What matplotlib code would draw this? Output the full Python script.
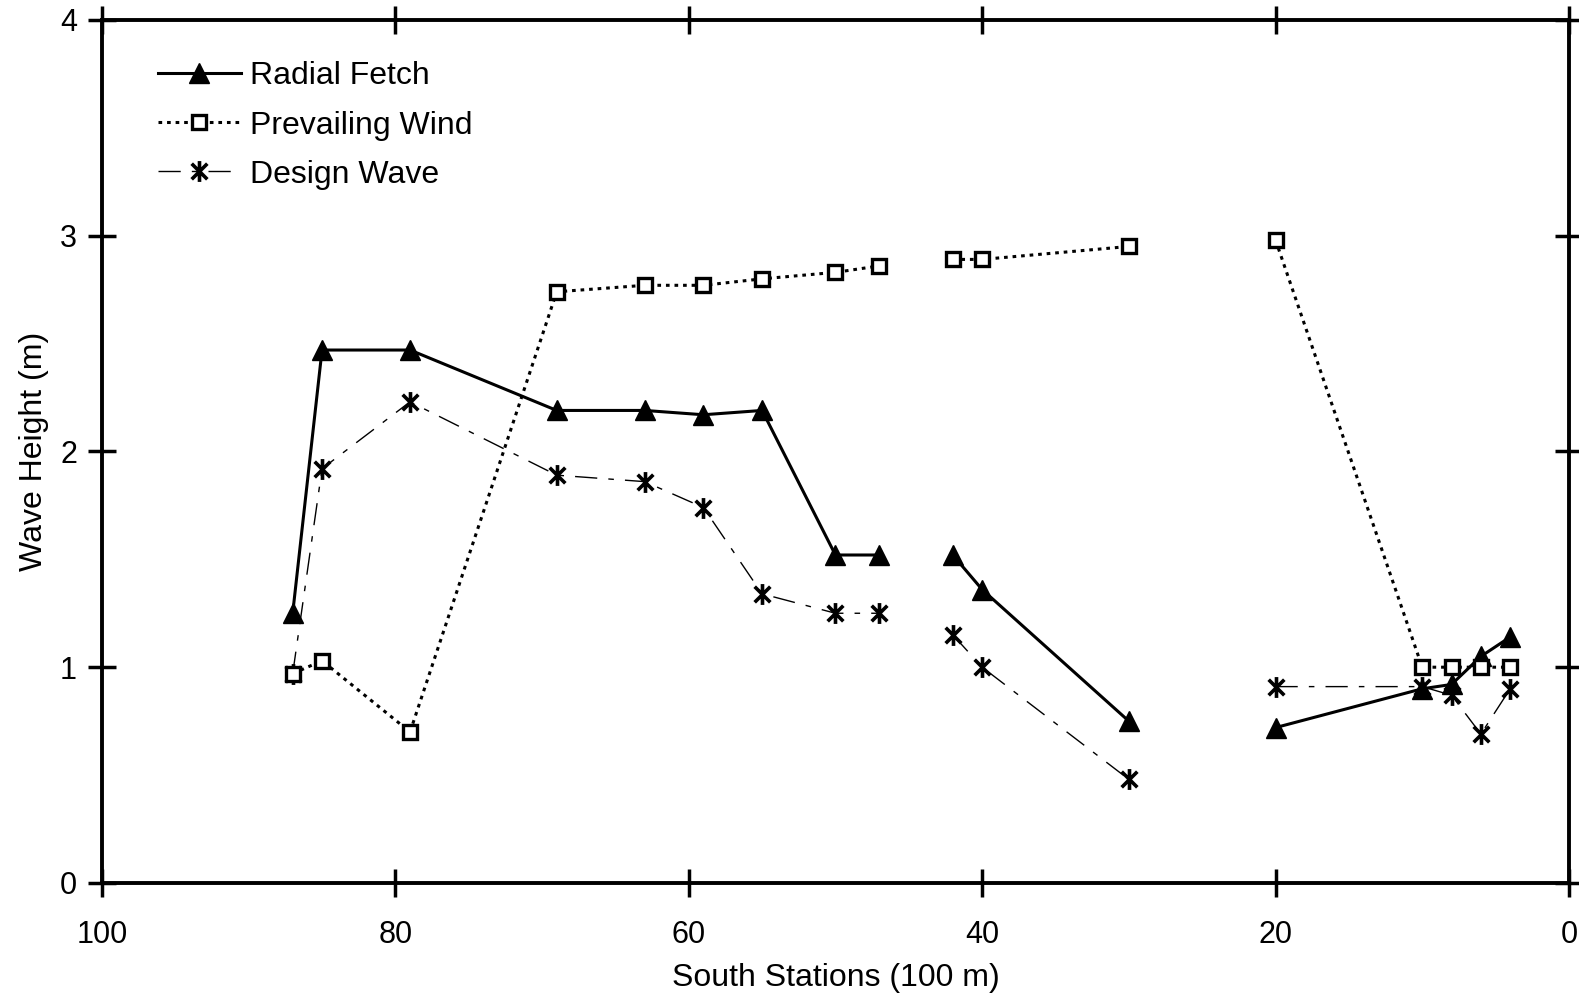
import numpy as np
import matplotlib
matplotlib.use("Agg")
import matplotlib.pyplot as plt
from matplotlib.path import Path

plt.rcParams['font.family'] = ['Liberation Sans', 'DejaVu Sans']

nan = np.nan

# Station positions (south stations, 100 m); NaN separates the surveyed reaches
stations = [87, 85, 79, 69, 63, 59, 55, 50, 47, nan, 42, 40, 30, nan, 20, 10, 8, 6, 4]

radial_fetch = [1.25, 2.47, 2.47, 2.19, 2.19, 2.17, 2.19, 1.52, 1.52, nan,
                1.52, 1.36, 0.75, nan, 0.72, 0.90, 0.92, 1.05, 1.14]
prevailing_wind = [0.97, 1.03, 0.70, 2.74, 2.77, 2.77, 2.80, 2.83, 2.86, nan,
                   2.89, 2.89, 2.95, nan, 2.98, 1.00, 1.00, 1.00, 1.00]
design_wave = [0.97, 1.92, 2.23, 1.89, 1.86, 1.74, 1.34, 1.25, 1.25, nan,
               1.15, 1.00, 0.48, nan, 0.91, 0.91, 0.87, 0.69, 0.90]

x_ticks = [100, 80, 60, 40, 20, 0]
y_ticks = [0, 1, 2, 3, 4]

# asterisk marker: vertical stroke plus an X
d = 0.75
star = Path([(0, -1), (0, 1), (-d, -d), (d, d), (-d, d), (d, -d)],
            [Path.MOVETO, Path.LINETO, Path.MOVETO, Path.LINETO, Path.MOVETO, Path.LINETO])

fig = plt.figure(figsize=(15.79, 9.96), dpi=100)
ax = fig.add_axes([0.0646, 0.1135, 0.929, 0.8665])

ax.plot(stations, radial_fetch, color='black', lw=2.2, linestyle='-',
        marker='^', markersize=14, markerfacecolor='black', markeredgecolor='black',
        label='Radial Fetch', zorder=3)
ax.plot(stations, prevailing_wind, color='black', lw=2.2, linestyle=(0, (1.2, 1.6)),
        marker='s', markersize=10, markerfacecolor='white', markeredgecolor='black',
        markeredgewidth=2.4, label='Prevailing Wind', zorder=4)
ax.plot(stations, design_wave, color='black', lw=1.0, linestyle=(0, (16, 8, 4, 8)),
        marker=star, markersize=15, markeredgewidth=2.6, markeredgecolor='black',
        label='Design Wave', zorder=3)

ax.set_xlim(100, 0)
ax.set_ylim(0, 4)
ax.set_xticks(x_ticks)
ax.set_yticks(y_ticks)

for s in ax.spines.values():
    s.set_linewidth(2.8)

ax.tick_params(direction='inout', length=20, width=2.5, top=True, right=True,
               labeltop=False, labelright=False, labelsize=22)
ax.tick_params(axis='x', pad=17)
ax.tick_params(axis='y', pad=8)

ax.set_xlabel('South Stations (100 m)', fontsize=23, labelpad=9)
ax.set_ylabel('Wave Height (m)', fontsize=23, labelpad=8)

ax.legend(loc='upper left', bbox_to_anchor=(0.038, 0.952), frameon=False,
          fontsize=23, handlelength=2.6, handletextpad=0.3, labelspacing=0.6,
          borderpad=0, borderaxespad=0, numpoints=1)

fig.savefig('out.png', dpi=100)
